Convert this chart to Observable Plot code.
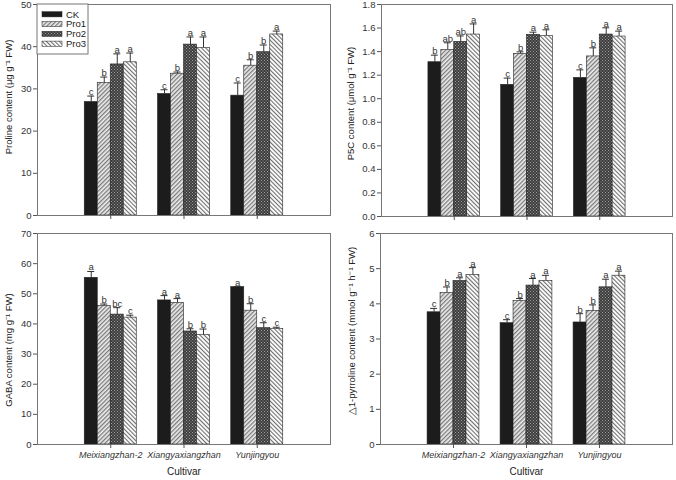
<!DOCTYPE html>
<html><head><meta charset="utf-8">
<script src="https://cdn.jsdelivr.net/npm/d3@7"></script>
<script src="https://cdn.jsdelivr.net/npm/@observablehq/plot@0.6"></script>
<style>
body{margin:0;background:#fff;}
#wrap{position:relative;width:676px;height:480px;overflow:hidden;background:#fff;font-family:"Liberation Sans",Arial,sans-serif;}
.panel{position:absolute;}
</style></head><body>
<svg width="0" height="0" style="position:absolute">
<defs>
<pattern id="pPro1" patternUnits="userSpaceOnUse" width="3" height="3" patternTransform="rotate(45)">
 <rect width="3" height="3" fill="#eeeeee"/>
 <rect width="1.3" height="3" fill="#7a7a7a"/>
</pattern>
<pattern id="pPro2" patternUnits="userSpaceOnUse" width="3" height="3">
 <rect width="3" height="3" fill="#3c3c3c"/>
 <rect width="1" height="1" fill="#a0a0a0"/>
 <rect x="1.5" y="1.5" width="1" height="1" fill="#a0a0a0"/>
</pattern>
<pattern id="pPro3" patternUnits="userSpaceOnUse" width="3" height="3" patternTransform="rotate(-45)">
 <rect width="3" height="3" fill="#ffffff"/>
 <rect width="1.1" height="3" fill="#6e6e6e"/>
</pattern>
</defs></svg>
<div id="wrap"></div>
<script>
const cultivars = ["Meixiangzhan-2", "Xiangyaxiangzhan", "Yunjingyou"];
const treatments = ["CK", "Pro1", "Pro2", "Pro3"];

const prolineMean = [[26.9, 31.4, 35.8, 36.3], [28.8, 33.6, 40.5, 39.7], [28.4, 35.5, 38.7, 42.9]];
const prolineSE   = [[1.4, 1.4, 2.5, 2.2], [1.0, 0.4, 1.8, 2.6], [3.0, 1.4, 1.7, 0.8]];
const prolineLetters = [["c", "b", "a", "a"], ["c", "b", "a", "a"], ["c", "b", "b", "a"]];

const p5cMean = [[1.31, 1.415, 1.483, 1.545], [1.118, 1.381, 1.543, 1.531], [1.177, 1.359, 1.545, 1.528]];
const p5cSE   = [[0.06, 0.06, 0.05, 0.09], [0.057, 0.017, 0.022, 0.054], [0.068, 0.073, 0.057, 0.046]];
const p5cLetters = [["b", "ab", "ab", "a"], ["c", "b", "a", "a"], ["c", "b", "a", "a"]];

const gabaMean = [[55.3, 46.0, 43.1, 42.1], [47.8, 47.0, 37.5, 36.4], [52.2, 44.4, 38.6, 38.3]];
const gabaSE   = [[2.1, 0.6, 2.3, 0.8], [1.6, 1.4, 0.9, 1.9], [0.2, 2.3, 1.8, 0.6]];
const gabaLetters = [["a", "b", "bc", "c"], ["a", "a", "b", "b"], ["a", "b", "c", "c"]];

const pyrMean = [[3.76, 4.31, 4.65, 4.82], [3.45, 4.08, 4.52, 4.65], [3.47, 3.80, 4.47, 4.80]];
const pyrSE   = [[0.11, 0.17, 0.09, 0.21], [0.10, 0.07, 0.20, 0.16], [0.25, 0.17, 0.23, 0.13]];
const pyrLetters = [["c", "b", "a", "a"], ["c", "b", "a", "a"], ["b", "b", "a", "a"]];

const fills = ["#1c1c1c", "url(#pPro1)", "url(#pPro2)", "url(#pPro3)"];

// grouped layout in x data units (group centers at 1,2,3)
const groupHalf = 0.355, barW = 0.1775, capHalf = 0.048;

function rowsFor(mean, se, letters) {
  const rows = [];
  cultivars.forEach((c, gi) => treatments.forEach((t, ti) => {
    const xc = gi + 1 - groupHalf + (ti + 0.5) * barW;
    rows.push({c, t, v: mean[gi][ti], top: mean[gi][ti] + se[gi][ti], letter: letters[gi][ti],
      xc, x1: xc - barW / 2, x2: xc + barW / 2});
  }));
  return rows;
}

function panel(o) {
  const rows = rowsFor(o.mean, o.se, o.letters);
  const marks = [
    Plot.rect(rows, {x1: "x1", x2: "x2", y1: 0, y2: "v", fill: "t", stroke: "#222", strokeWidth: 0.6}),
    Plot.ruleX(rows, {x: "xc", y1: "v", y2: "top", stroke: "#333", strokeWidth: 1}),
    Plot.ruleY(rows, {y: "top", x1: d => d.xc - capHalf, x2: d => d.xc + capHalf, stroke: "#333", strokeWidth: 1}),
    Plot.text(rows, {x: "xc", y: "top", text: "letter", lineAnchor: "bottom", dy: -1, fontSize: 9.5, fill: "#333"}),
    Plot.frame({stroke: "#777", strokeWidth: 1}),
    Plot.axisY({ticks: d3.range(0, o.yMax + o.yStep / 2, o.yStep), tickFormat: o.yFmt, tickSize: 4, tickPadding: 2, label: null, stroke: "#555", fontSize: 9.5, fill: "#333"}),
    Plot.axisX({ticks: [1, 2, 3], tickFormat: o.bottom ? (i => cultivars[i - 1]) : (() => ""), tickSize: 4, tickPadding: 3, label: null, stroke: "#555", fontStyle: "italic", fontSize: 9, fill: "#333"}),
    Plot.text([o.ylabel], {frameAnchor: "left", text: d => d, rotate: -90, textAnchor: "middle", lineAnchor: "middle", dx: o.ldx, dy: o.ldy, fontSize: 9.5, fill: "#222"})
  ];
  if (o.bottom) marks.push(Plot.text(["Cultivar"], {frameAnchor: "bottom", text: d => d, dy: 30, fontSize: 10, fill: "#222"}));
  const p = Plot.plot({
    width: o.width, height: o.height,
    marginLeft: o.ml, marginRight: o.mr, marginTop: o.mt, marginBottom: o.mb,
    x: {domain: [0, 4], axis: null},
    y: {domain: [0, o.yMax], axis: null},
    color: {type: "ordinal", domain: treatments, range: fills},
    style: {fontFamily: "'Liberation Sans', Arial, sans-serif", fontSize: "9.5px", color: "#222", background: "transparent", overflow: "visible"},
    marks
  });
  const div = document.createElement("div");
  div.className = "panel";
  div.style.left = o.left + "px";
  div.style.top = o.top + "px";
  div.appendChild(p);
  document.getElementById("wrap").appendChild(div);
  return p;
}

const tl = panel({mean: prolineMean, se: prolineSE, letters: prolineLetters, yMax: 50, yStep: 10, yFmt: d3.format("d"),
  ylabel: "Proline content (μg g⁻¹ FW)", ldx: -29, ldy: -13, bottom: false,
  left: 0, top: 0, width: 338, height: 225, ml: 37, mr: 8, mt: 4, mb: 10});
panel({mean: p5cMean, se: p5cSE, letters: p5cLetters, yMax: 1.8, yStep: 0.2, yFmt: d3.format(".1f"),
  ylabel: "P5C content (μmol g⁻¹ FW)", ldx: -31, ldy: -7, bottom: false,
  left: 338, top: 0, width: 338, height: 225, ml: 43, mr: 4, mt: 4, mb: 9});
panel({mean: gabaMean, se: gabaSE, letters: gabaLetters, yMax: 70, yStep: 10, yFmt: d3.format("d"),
  ylabel: "GABA content (mg g⁻¹ FW)", ldx: -29, ldy: 11, bottom: true,
  left: 0, top: 225, width: 338, height: 255, ml: 37, mr: 8, mt: 8, mb: 36});
panel({mean: pyrMean, se: pyrSE, letters: pyrLetters, yMax: 6, yStep: 1, yFmt: d3.format("d"),
  ylabel: "△1-pyrroline content (mmol g⁻¹ h⁻¹ FW)", ldx: -29, ldy: -8, bottom: true,
  left: 338, top: 225, width: 338, height: 255, ml: 42, mr: 4, mt: 8, mb: 36});

// legend inside the top-left panel
const svg = d3.select(tl);
const lg = svg.append("g").attr("text-anchor", "start");
lg.append("rect").attr("x", 37).attr("y", 4).attr("width", 51).attr("height", 50)
  .attr("fill", "#fff").attr("stroke", "#777").attr("stroke-width", 1);
treatments.forEach((t, i) => {
  const cy = 14.3 + i * 9.8;
  lg.append("rect").attr("x", 42).attr("y", cy - 2.6).attr("width", 20).attr("height", 5.2)
    .attr("fill", fills[i]).attr("stroke", "#222").attr("stroke-width", 0.5);
  lg.append("text").attr("x", 66).attr("y", cy).attr("dy", "0.35em")
    .attr("font-size", 9.5).attr("fill", "#222").text(t);
});
</script>
</body></html>
